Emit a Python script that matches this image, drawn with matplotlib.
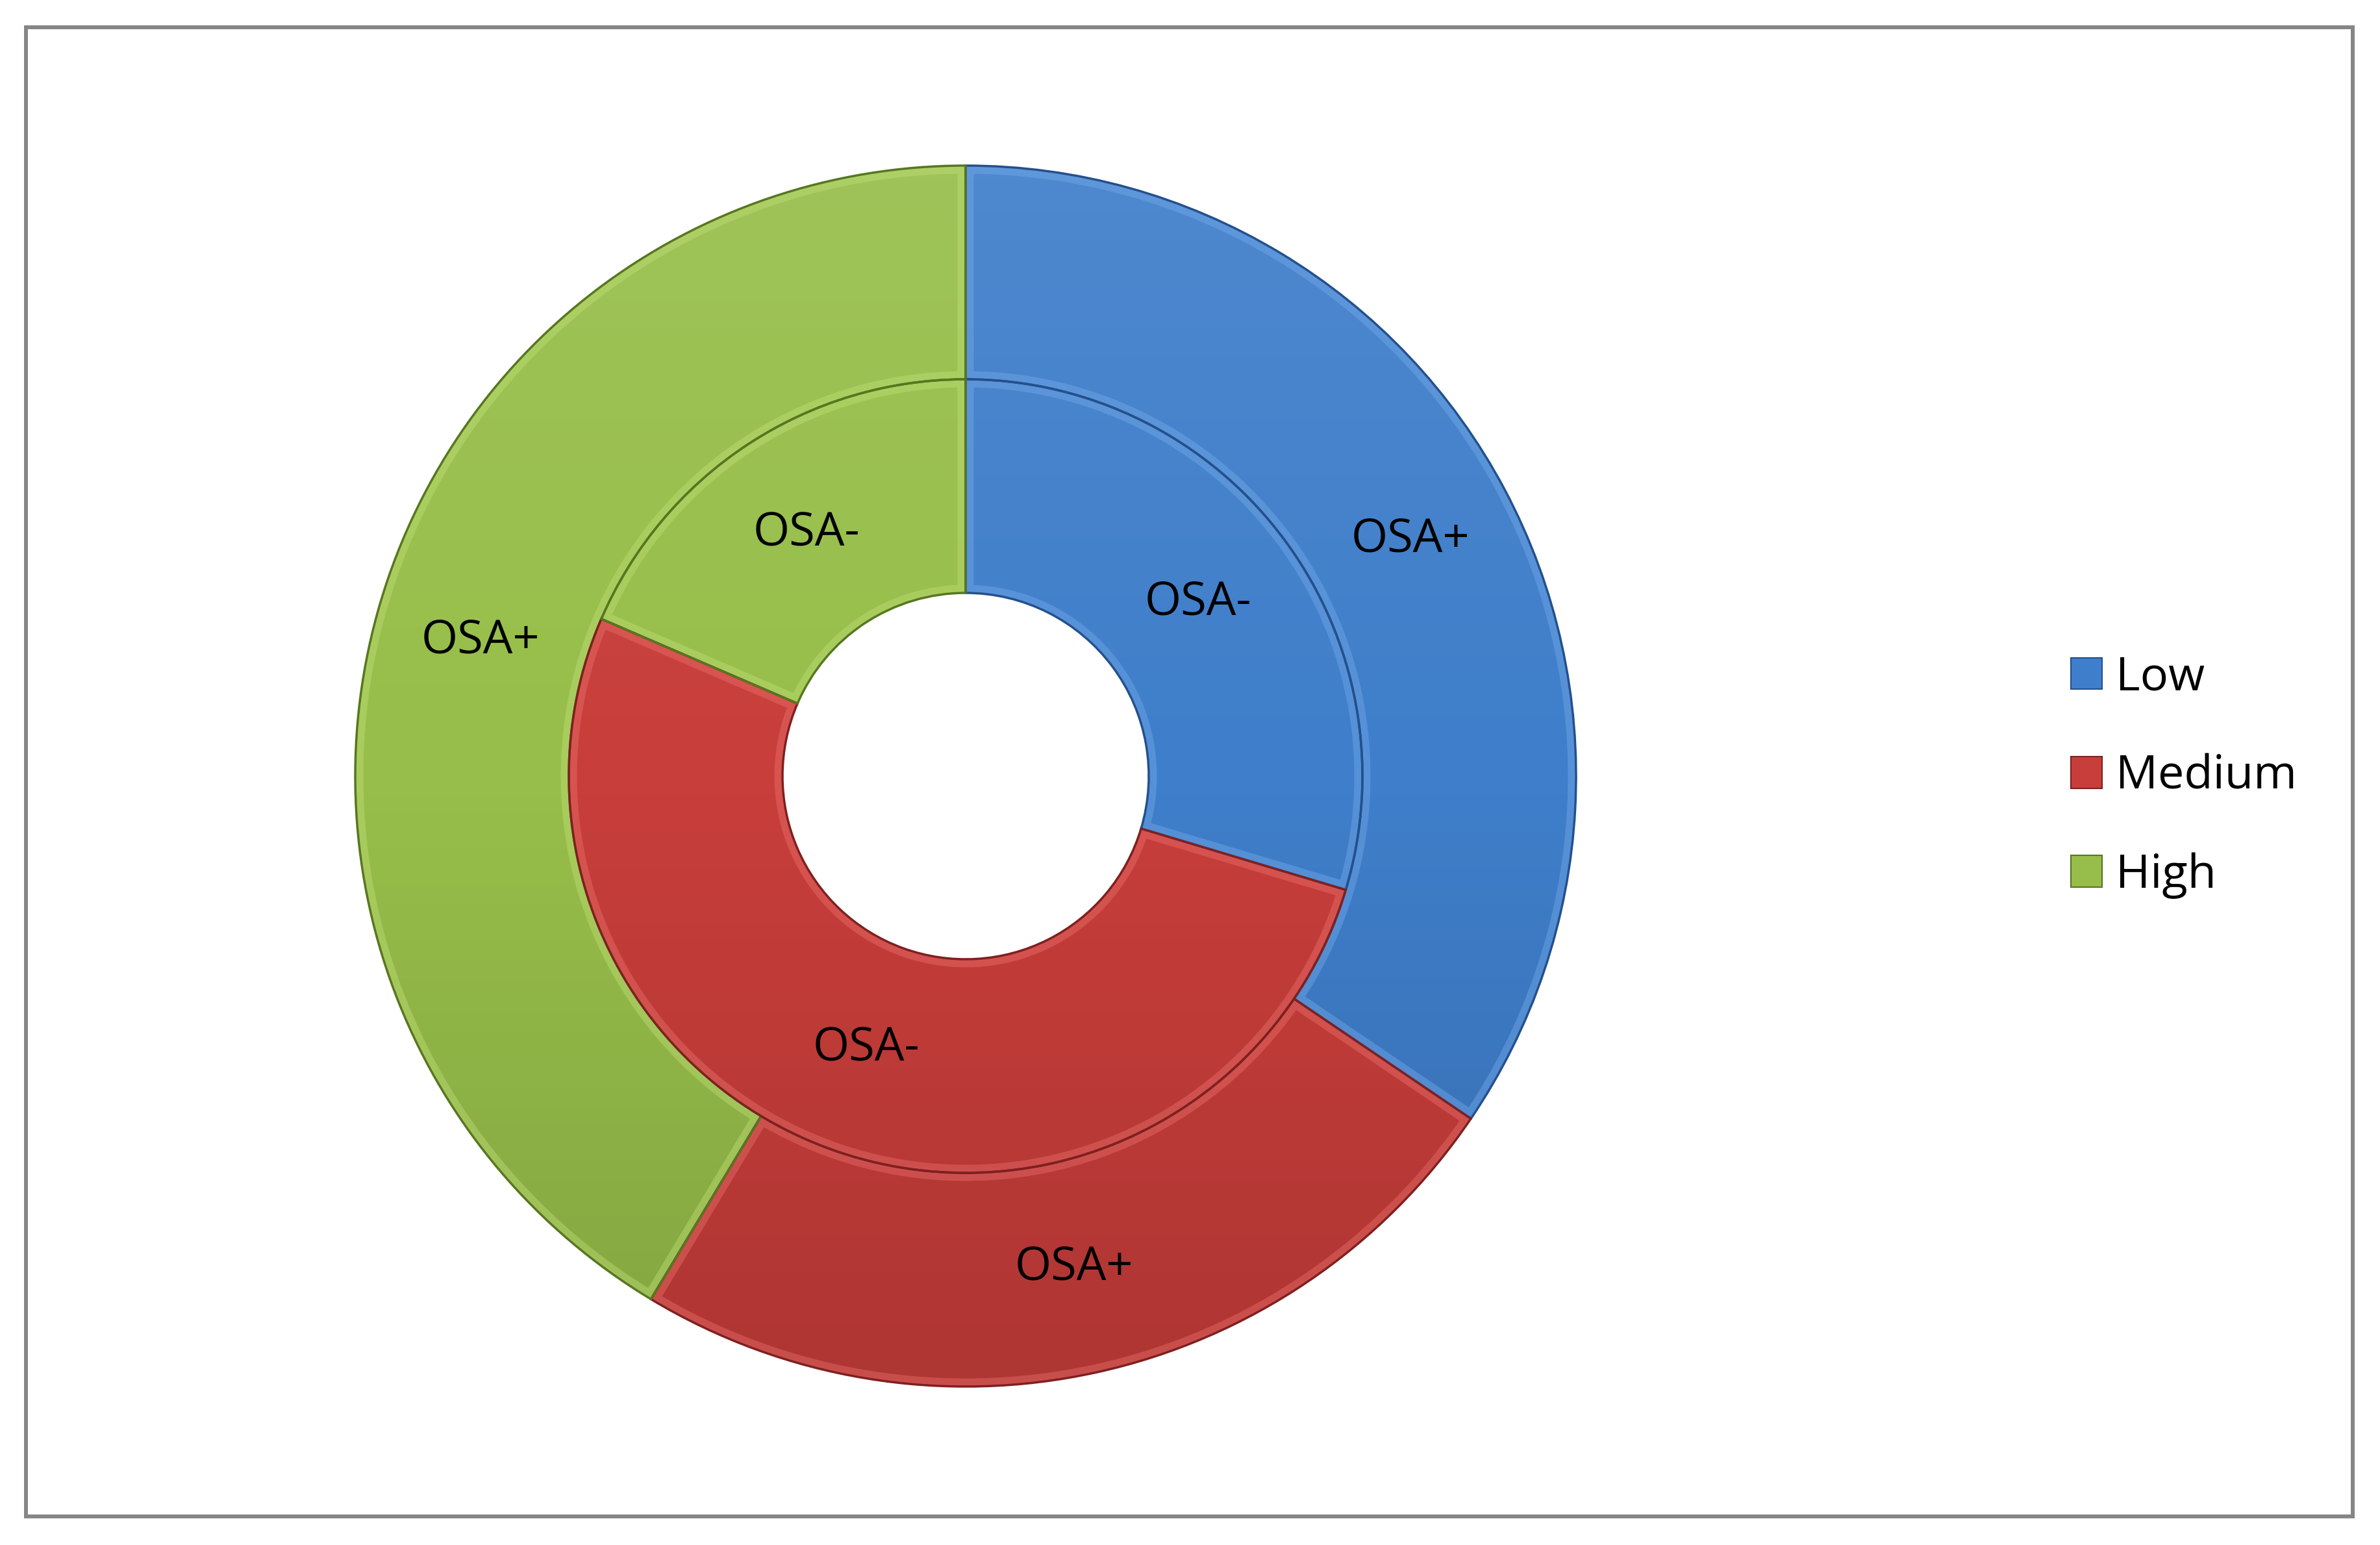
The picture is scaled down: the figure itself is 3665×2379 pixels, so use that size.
import matplotlib
matplotlib.use("Agg")
import matplotlib.pyplot as plt
from matplotlib.patches import Patch, Rectangle, Wedge
import numpy as np

# ---- data ----
categories = ["Low", "Medium", "High"]
outer_values = [10, 7, 12]      # OSA+
inner_values = [8, 14, 5]       # OSA-
outer_label = "OSA+"
inner_label = "OSA-"

colors = ["#3F7ECA", "#C83E3B", "#97BE4A"]
edge_colors = ["#24508C", "#7E2020", "#56771F"]
light_colors = ["#78AEEE", "#F07470", "#C4E27A"]

W, H, DPI = 3666, 2379, 100
plt.rcParams['font.family'] = ['Open Sans', 'DejaVu Sans']
fig = plt.figure(figsize=(W / DPI, H / DPI), dpi=DPI)
fig.patch.set_facecolor("white")

# chart frame
fig.patches.append(Rectangle((40 / W, 1 - 2335 / H), (3623 - 40) / W, (2335 - 42) / H,
                             transform=fig.transFigure, fill=False,
                             edgecolor="#868686", linewidth=4.3, zorder=0))

cx, cy, R = 1487, 1195, 940
ax = fig.add_axes([(cx - R) / W, (H - cy - R) / H, 2 * R / W, 2 * R / H])

ring_w = 0.35
outer_wedges, _ = ax.pie(outer_values, radius=1.0, colors=colors, startangle=90,
                         counterclock=False,
                         wedgeprops=dict(width=ring_w, linewidth=0))
inner_wedges, _ = ax.pie(inner_values, radius=1.0 - ring_w, colors=colors, startangle=90,
                         counterclock=False,
                         wedgeprops=dict(width=ring_w, linewidth=0))

# vertical shading (lighter top, darker bottom)
t = np.linspace(1, 0, 256)[:, None]
shade = np.zeros((256, 2, 4))
shade[..., :3] = np.where(t[..., None] > 0.5, 1.0, 0.0)
shade[..., 3] = np.abs(t - 0.5) * np.where(t > 0.5, 0.16, 0.26)

for wedges in (outer_wedges, inner_wedges):
    for w, ec, lc in zip(wedges, edge_colors, light_colors):
        im = ax.imshow(shade, extent=(-1, 1, -1, 1), origin="upper", aspect="auto",
                       zorder=2, interpolation="bilinear")
        im.set_clip_path(w)
        hl = Wedge(w.center, w.r, w.theta1, w.theta2, width=w.width,
                   facecolor="none", edgecolor=lc, linewidth=18, alpha=0.4, zorder=3)
        ax.add_patch(hl)
        hl.set_clip_path(w)
        rim = Wedge(w.center, w.r, w.theta1, w.theta2, width=w.width,
                    facecolor="none", edgecolor=ec, linewidth=2.5, zorder=4)
        ax.add_patch(rim)
        rim.set_clip_on(False)

ax.set_xlim(-1, 1)
ax.set_ylim(-1, 1)
ax.set_aspect("equal")
ax.axis("off")

fs = 52
for wedges, lab in ((outer_wedges, outer_label), (inner_wedges, inner_label)):
    for w in wedges:
        ang = np.deg2rad((w.theta1 + w.theta2) / 2)
        r = w.r - w.width / 2
        ax.text(r * np.cos(ang), r * np.sin(ang), lab, ha="center", va="center",
                fontsize=fs, color="black", zorder=5)

handles = [Patch(facecolor=c, edgecolor=ec, linewidth=1.5) for c, ec in zip(colors, edge_colors)]
fig.legend(handles, categories, loc="center left", bbox_to_anchor=(3189 / W, 1 - 1196 / H),
           frameon=False, fontsize=fs, handlelength=0.66, handleheight=0.66,
           handletextpad=0.3, labelspacing=1.12, borderpad=0, borderaxespad=0)

fig.savefig("out.png", dpi=DPI, facecolor="white")
